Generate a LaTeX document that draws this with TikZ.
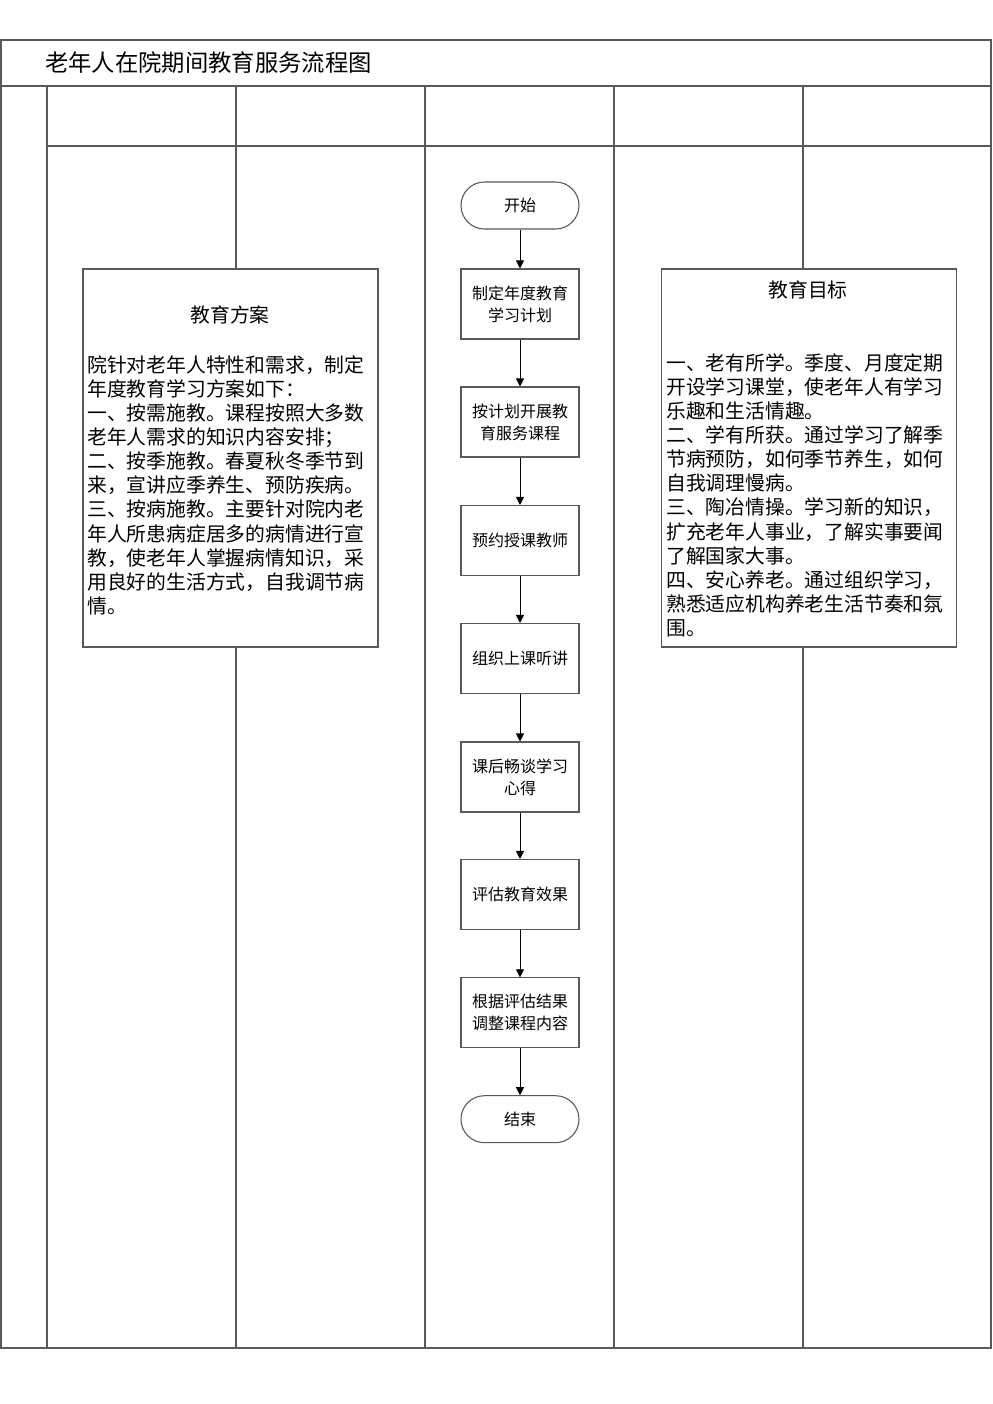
\documentclass[tikz,border=0pt]{standalone}
\usepackage{fontspec}
\setmainfont{Noto Sans CJK SC}
\usetikzlibrary{arrows.meta}
\begin{document}
\begin{tikzpicture}[x=0.75pt,y=-0.75pt,
  frame/.style={draw=black!65, line width=0.9pt},
  proc/.style={draw=black!65, line width=0.8pt, fill=white, minimum width=88.5pt, minimum height=52.5pt, inner sep=0pt, align=center, font=\fontsize{12}{16.5}\selectfont},
  term/.style={proc, minimum height=35.25pt, rounded corners=17.6pt},
  side/.style={draw=black!65, line width=0.8pt, fill=white, minimum width=221.25pt, minimum height=283.5pt, inner sep=0pt},
  sidetitle/.style={inner sep=0pt, font=\fontsize{14.85}{18.1}\selectfont},
  sidetext/.style={inner sep=0pt, align=left, anchor=north west, font=\fontsize{14.85}{18.1}\selectfont},
  arr/.style={draw=black, line width=0.6pt, -{Triangle[length=6pt,width=6pt]}}]
\useasboundingbox[fill=white] (0,0) rectangle (993,1404);
% frame
\draw[frame] (1,40) rectangle (991,1348);
\draw[frame] (1,86) -- (991,86);
\draw[frame] (47,146) -- (991,146);
\foreach \xx in {47,236,425,614,803} \draw[frame] (\xx,86) -- (\xx,1348);
\node[anchor=west, inner sep=0pt, font=\fontsize{17.5}{20}\selectfont] (title) at (45,63) {老年人在院期间教育服务流程图};
% side boxes
\node[side] (plan) at (230.5,458) {};
\node[sidetitle] (plantitle) at (230,315) {教育方案};
\node[sidetext] (plantext) at (87,355) {院针对老年人特性和需求，制定\\年度教育学习方案如下：\\一、按需施教。课程按照大多数\\老年人需求的知识内容安排；\\二、按季施教。春夏秋冬季节到\\来，宣讲应季养生、预防疾病。\\三、按病施教。主要针对院内老\\年人所患病症居多的病情进行宣\\教，使老年人掌握病情知识，采\\用良好的生活方式，自我调节病\\情。};
\node[side] (goal) at (808.75,458) {};
\node[sidetitle] (goaltitle) at (808,290) {教育目标};
\node[sidetext] (goaltext) at (666,353) {一、老有所学。季度、月度定期\\开设学习课堂，使老年人有学习\\乐趣和生活情趣。\\二、学有所获。通过学习了解季\\节病预防，如何季节养生，如何\\自我调理慢病。\\三、陶冶情操。学习新的知识，\\扩充老年人事业，了解实事要闻\\了解国家大事。\\四、安心养老。通过组织学习，\\熟悉适应机构养老生活节奏和氛\\围。};
% flow
\node[term] (start) at (520,205.5) {开始};
\node[proc] (b1) at (520,304) {制定年度教育\\学习计划};
\node[proc] (b2) at (520,422) {按计划开展教\\育服务课程};
\node[proc] (b3) at (520,540.5) {预约授课教师};
\node[proc] (b4) at (520,658.5) {组织上课听讲};
\node[proc] (b5) at (520,777) {课后畅谈学习\\心得};
\node[proc] (b6) at (520,894.5) {评估教育效果};
\node[proc] (b7) at (520,1012.8) {根据评估结果\\调整课程内容};
\node[term] (end) at (520,1119.2) {结束};
\draw[arr] (start) -- (b1);
\draw[arr] (b1) -- (b2);
\draw[arr] (b2) -- (b3);
\draw[arr] (b3) -- (b4);
\draw[arr] (b4) -- (b5);
\draw[arr] (b5) -- (b6);
\draw[arr] (b6) -- (b7);
\draw[arr] (b7) -- (end);
\end{tikzpicture}
\end{document}
